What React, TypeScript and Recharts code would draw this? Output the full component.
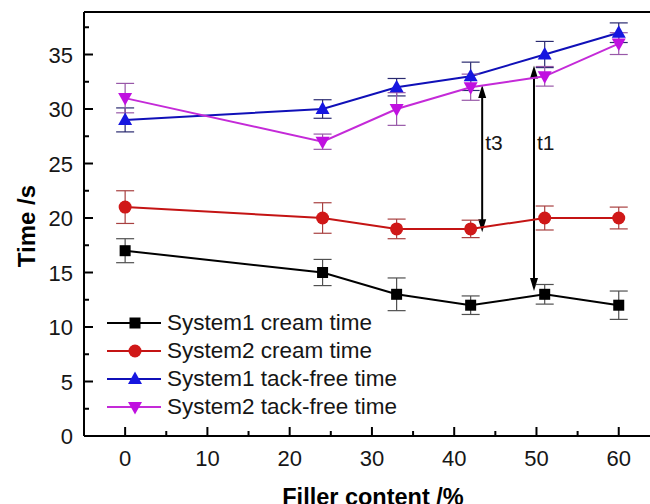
import React from "react";
import {
  ComposedChart,
  Line,
  XAxis,
  YAxis,
  ErrorBar,
  ReferenceLine,
} from "recharts";

// filler content (%)
const filler = [0, 24, 33, 42, 51, 60];

// times (s) and their error bars
const s1Cream = [17, 15, 13, 12, 13, 12];
const s1CreamErr = [1.1, 1.2, 1.5, 0.85, 0.9, 1.3];
const s2Cream = [21, 20, 19, 19, 20, 20];
const s2CreamErr = [1.5, 1.4, 0.9, 0.8, 1.1, 1.0];
const s1Tack = [29, 30, 32, 33, 35, 37];
const s1TackErr = [1.1, 0.85, 0.8, 1.3, 1.2, 0.9];
const s2Tack = [31, 27, 30, 32, 33, 36];
const s2TackErr = [1.35, 0.7, 1.5, 1.2, 0.9, 1.0];

const xTicks = [0, 5, 10, 15, 20, 25, 30, 35, 40, 45, 50, 55, 60];
const yTicks = [0, 2.5, 5, 7.5, 10, 12.5, 15, 17.5, 20, 22.5, 25, 27.5, 30, 32.5, 35, 37.5];

// annotation arrows: x, top, bottom, label baseline
const arrowNames = ["t3", "t1"];
const arrowX = [43.4, 49.7];
const arrowTop = [32.2, 34.0];
const arrowBottom = [18.7, 13.3];
const arrowLabelY = [26.2, 26.2];

const series = [
  { key: "s1Cream", name: "System1 cream time", line: "#000000", fill: "#000000", err: "#505050", shape: "square" },
  { key: "s2Cream", name: "System2 cream time", line: "#c41414", fill: "#d01818", err: "#a84040", shape: "circle" },
  { key: "s1Tack", name: "System1 tack-free time", line: "#1010b8", fill: "#1616e0", err: "#2a2a70", shape: "up" },
  { key: "s2Tack", name: "System2 tack-free time", line: "#c42ad8", fill: "#c010e0", err: "#9858a8", shape: "down" },
];

const data = filler.map((x, i) => ({
  x,
  s1Cream: s1Cream[i],
  s1CreamErr: s1CreamErr[i],
  s2Cream: s2Cream[i],
  s2CreamErr: s2CreamErr[i],
  s1Tack: s1Tack[i],
  s1TackErr: s1TackErr[i],
  s2Tack: s2Tack[i],
  s2TackErr: s2TackErr[i],
}));

const FONT = "'Liberation Sans', Arial, sans-serif";
const TXT = "#161616";

function Marker({ cx, cy, shape, color }: { cx: number; cy: number; shape: string; color: string }) {
  if (cx == null || cy == null) return null;
  if (shape === "square") return <rect x={cx - 5.5} y={cy - 5.5} width={11} height={11} fill={color} />;
  if (shape === "circle") return <circle cx={cx} cy={cy} r={6.5} fill={color} />;
  if (shape === "up")
    return <polygon points={`${cx},${cy - 7.5} ${cx - 7},${cy + 5} ${cx + 7},${cy + 5}`} fill={color} />;
  return <polygon points={`${cx},${cy + 7.5} ${cx - 7},${cy - 5} ${cx + 7},${cy - 5}`} fill={color} />;
}

function XTick(props: any) {
  const { x, y, payload } = props;
  const major = payload.value % 10 === 0;
  return (
    <g>
      <line x1={x} x2={x} y1={y} y2={y - (major ? 9 : 5)} stroke="#000" strokeWidth={2} />
      {major && (
        <text x={x} y={y + 30} textAnchor="middle" fontSize={22} fontFamily={FONT} fill={TXT}>
          {payload.value}
        </text>
      )}
    </g>
  );
}

function YTick(props: any) {
  const { x, y, payload } = props;
  const major = payload.value % 5 === 0;
  return (
    <g>
      <line x1={x} x2={x + (major ? 9 : 5)} y1={y} y2={y} stroke="#000" strokeWidth={2} />
      {major && (
        <text x={x - 11} y={y + 8} textAnchor="end" fontSize={22} fontFamily={FONT} fill={TXT}>
          {payload.value}
        </text>
      )}
    </g>
  );
}

function LegendBox() {
  return (
    <div style={{ position: "absolute", left: 107, top: 309, fontFamily: FONT, fontSize: 22.5, color: TXT }}>
      {series.map((s) => (
        <div key={s.key} style={{ display: "flex", alignItems: "center", height: 28, whiteSpace: "nowrap" }}>
          <svg width={60} height={20}>
            <line x1={0} x2={54} y1={10} y2={10} stroke={s.line} strokeWidth={2} />
            <Marker cx={28} cy={10} shape={s.shape} color={s.fill} />
          </svg>
          <span>{s.name}</span>
        </div>
      ))}
    </div>
  );
}

function arrowShape(i: number) {
  return (props: any) => {
    const { x1, y1, x2, y2 } = props;
    if (x1 == null) return null;
    const top = Math.min(y1, y2);
    const bot = Math.max(y1, y2);
    const ly = y1 + ((arrowLabelY[i] - arrowTop[i]) / (arrowBottom[i] - arrowTop[i])) * (y2 - y1);
    return (
      <g>
        <line x1={x1} x2={x2} y1={top + 10} y2={bot - 10} stroke="#000" strokeWidth={2} />
        <polygon points={`${x1},${top} ${x1 - 4},${top + 13} ${x1 + 4},${top + 13}`} fill="#000" />
        <polygon points={`${x1},${bot} ${x1 - 4},${bot - 13} ${x1 + 4},${bot - 13}`} fill="#000" />
        <text x={x1 + 3} y={ly} fontSize={21} fontFamily={FONT} fill={TXT}>
          {arrowNames[i]}
        </text>
      </g>
    );
  };
}

export default function App() {
  return (
    <div style={{ position: "absolute", left: 0, top: 0, width: 650, height: 504, background: "#fff", overflow: "hidden" }}>
      <ComposedChart width={650} height={504} data={data} margin={{ top: 12, right: 0, bottom: 0, left: 0 }}>
        <XAxis
          dataKey="x"
          type="number"
          domain={[-5, 63.8]}
          ticks={xTicks}
          interval={0}
          allowDataOverflow
          tickSize={0}
          tickMargin={0}
          tickLine={false}
          tick={<XTick />}
          axisLine={{ stroke: "#000", strokeWidth: 2 }}
          height={68}
          label={{
            content: () => (
              <text x={373} y={505} textAnchor="middle" fontSize={23.5} fontWeight="bold" fontFamily={FONT} fill="#000">
                Filler content /%
              </text>
            ),
          }}
        />
        <YAxis
          type="number"
          domain={[0, 38.9]}
          ticks={yTicks}
          interval={0}
          allowDataOverflow
          width={84}
          tickSize={0}
          tickMargin={0}
          tickLine={false}
          tick={<YTick />}
          axisLine={{ stroke: "#000", strokeWidth: 2 }}
          label={{
            content: () => (
              <text
                x={0}
                y={0}
                transform="translate(35,226) rotate(-90)"
                textAnchor="middle"
                fontSize={24}
                fontWeight="bold"
                fontFamily={FONT}
                fill="#000"
              >
                Time /s
              </text>
            ),
          }}
        />
        <ReferenceLine y={38.9} stroke="#000" strokeWidth={2} />
        {arrowX.map((x, i) => (
          <ReferenceLine
            key={arrowNames[i]}
            segment={[
              { x, y: arrowTop[i] },
              { x, y: arrowBottom[i] },
            ]}
            shape={arrowShape(i)}
          />
        ))}
        {series.map((s) => (
          <Line
            key={s.key}
            dataKey={s.key}
            name={s.name}
            stroke={s.line}
            strokeWidth={2}
            isAnimationActive={false}
            dot={(p: any) => <Marker key={`${s.key}-${p.index}`} cx={p.cx} cy={p.cy} shape={s.shape} color={s.fill} />}
            activeDot={false}
          >
            <ErrorBar dataKey={`${s.key}Err`} width={9} stroke={s.err} strokeWidth={1.2} direction="y" />
          </Line>
        ))}
      </ComposedChart>
      <LegendBox />
    </div>
  );
}
